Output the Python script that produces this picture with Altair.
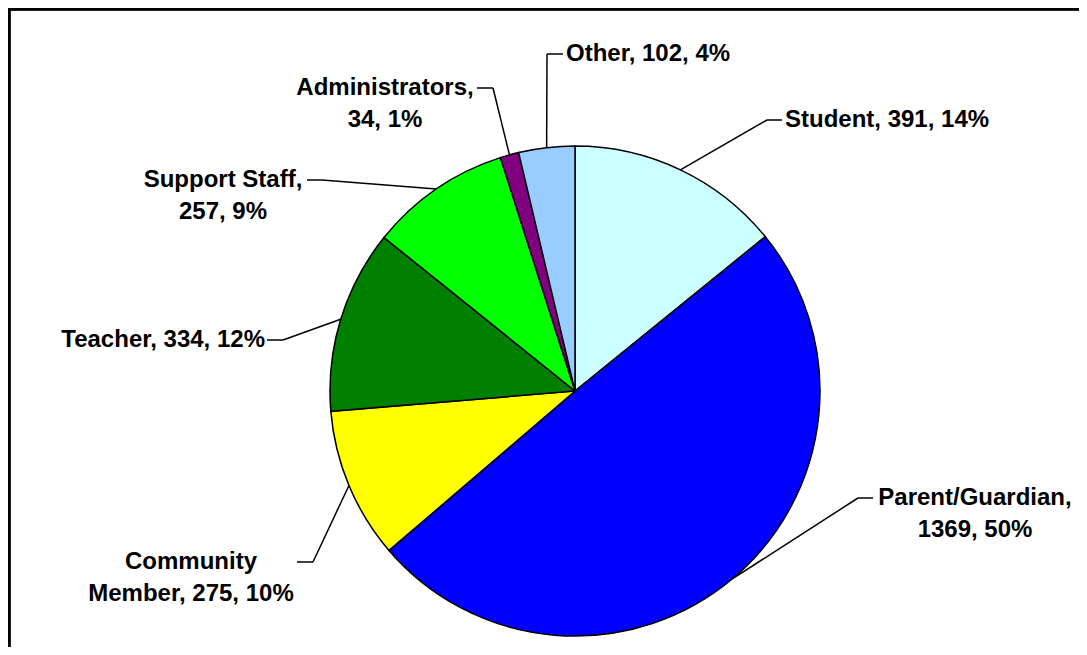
import altair as alt
import pandas as pd

# ---- data ----
categories = ["Student", "Parent/Guardian", "Community Member", "Teacher",
              "Support Staff", "Administrators", "Other"]
counts = [391, 1369, 275, 334, 257, 34, 102]
colors = ["#CCFFFF", "#0000FF", "#FFFF00", "#008000", "#00FF00", "#800080", "#99CCFF"]
# number of words on the first line of each label (0 = single line)
first_line_words = [0, 1, 1, 0, 2, 1, 0]

# ---- layout (pixels in the view) ----
W, H = 1071, 639
CX, CY, R = 567, 383, 245
elbow_x = [759, 850, 305, 275, 314, 485, 539]
elbow_y = [112, 490, 554, 332, 172, 80, 46]
end_x = [774, 865, 289, 259, 299, 469, 555]
text_x = [777, 967, 183, 257, 215, 377, 558]
text_align = ["left", "center", "center", "right", "center", "center", "left"]

total = sum(counts)
labels = []
for c, v, n in zip(categories, counts, first_line_words):
    s = f"{c}, {v}, {round(v / total * 100)}%"
    if n:
        words = s.split(" ")
        s = " ".join(words[:n]) + "\n" + " ".join(words[n:])
    labels.append(s)

df = pd.DataFrame({
    "idx": list(range(len(categories))),
    "category": categories,
    "value": counts,
    "label": labels,
    "ex": elbow_x,
    "ey": elbow_y,
    "lx": end_x,
    "tx": text_x,
    "align": text_align,
})

base = alt.Chart(df)

pie = base.mark_arc(outerRadius=R, stroke="black", strokeWidth=1.5).encode(
    theta=alt.Theta("value:Q", stack=True),
    order=alt.Order("idx:Q"),
    color=alt.Color("category:N", scale=alt.Scale(domain=categories, range=colors), legend=None),
    x=alt.value(CX),
    y=alt.value(CY),
)

lead_base = base.transform_joinaggregate(total="sum(value)").transform_window(
    cum="sum(value)", sort=[alt.SortField("idx")], frame=[None, 0]
).transform_calculate(
    mid="(datum.cum - datum.value / 2) / datum.total * 2 * PI",
    sx=f"{CX} + {R} * sin(datum.mid)",
    sy=f"{CY} - {R} * cos(datum.mid)",
)

lead1 = lead_base.mark_rule(color="black", strokeWidth=1.5).encode(
    x=alt.X("sx:Q", scale=None, axis=None),
    y=alt.Y("sy:Q", scale=None, axis=None),
    x2="ex:Q",
    y2="ey:Q",
)
lead2 = base.mark_rule(color="black", strokeWidth=1.5).encode(
    x=alt.X("ex:Q", scale=None, axis=None),
    y=alt.Y("ey:Q", scale=None, axis=None),
    x2="lx:Q",
)

texts = []
for a in ["left", "center", "right"]:
    texts.append(
        base.transform_filter(alt.datum.align == a).mark_text(
            align=a, baseline="middle", font="Liberation Sans", fontWeight="bold",
            fontSize=24, lineBreak="\n", lineHeight=32, color="black",
        ).encode(
            x=alt.X("tx:Q", scale=None, axis=None),
            y=alt.Y("ey:Q", scale=None, axis=None),
            text="label:N",
        )
    )

frame_top = base.mark_rule(color="black", strokeWidth=2.5).encode(
    x=alt.value(0), x2=alt.value(W), y=alt.value(1)
)
frame_left = base.mark_rule(color="black", strokeWidth=2.5).encode(
    y=alt.value(0), y2=alt.value(H), x=alt.value(1)
)

chart = alt.layer(pie, lead1, lead2, *texts, frame_top, frame_left).properties(
    width=W, height=H, padding=0, autosize=alt.AutoSizeParams(type="none"),
    background="white",
).configure_view(stroke=None)

chart.save("out.html", embed_options={"renderer": "svg", "actions": False})
